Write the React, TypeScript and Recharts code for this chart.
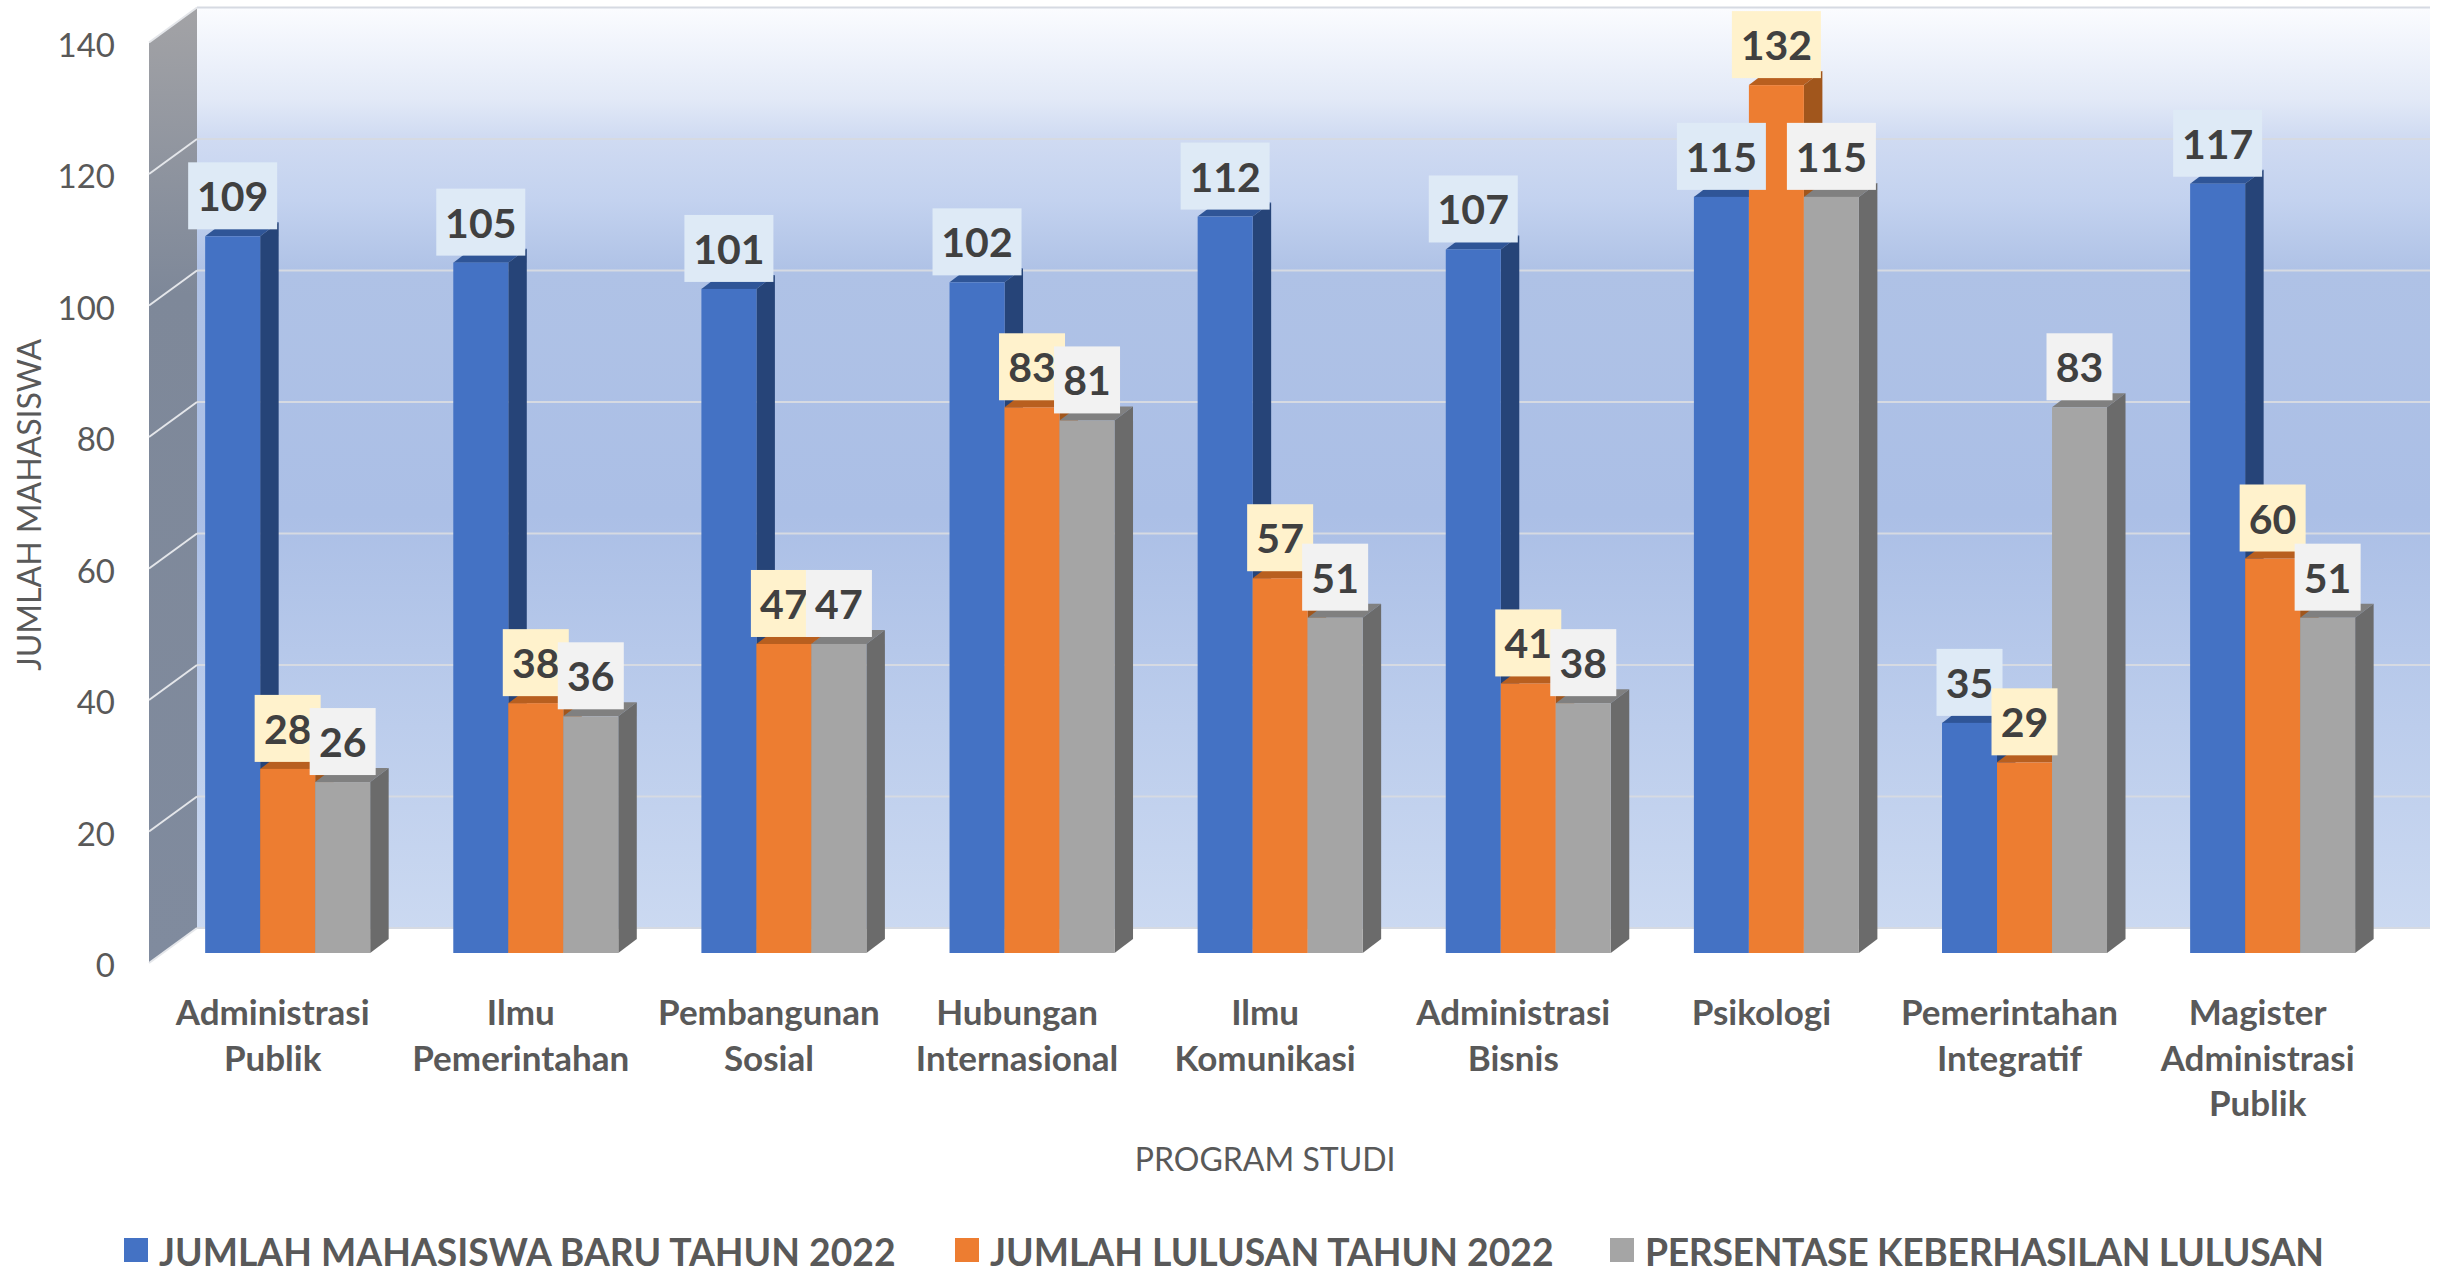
import React from 'react';
import { BarChart, Bar, XAxis, YAxis, Legend, LabelList, Customized } from 'recharts';

const categories = [
  'Administrasi|Publik',
  'Ilmu|Pemerintahan',
  'Pembangunan|Sosial',
  'Hubungan|Internasional',
  'Ilmu|Komunikasi',
  'Administrasi|Bisnis',
  'Psikologi',
  'Pemerintahan|Integratif',
  'Magister|Administrasi|Publik',
];
const baru = [109, 105, 101, 102, 112, 107, 115, 35, 117];
const lulusan = [28, 38, 47, 83, 57, 41, 132, 29, 60];
const persentase = [26, 36, 47, 81, 51, 38, 115, 83, 51];
const yTicks = [0, 20, 40, 60, 80, 100, 120, 140];

const data = categories.map((c, i) => ({ c, baru: baru[i], lulusan: lulusan[i], persentase: persentase[i] }));

const FONT = 'Lato, sans-serif';
const W = 2440;
const H = 1268;
const PLOT_TOP = 32.5;
const PLOT_BOTTOM = 953;
const PLOT_LEFT = 163.6;
const PLOT_RIGHT = 2396.7;
const DX = 18.5;
const DY = 14;
// wall geometry
const BACK_X = 197;
const BACK_R = 2430;
const FRONT_X = 149;
const unit = (PLOT_BOTTOM - PLOT_TOP) / 140;
const backY = (v: number) => 928 - v * unit;
const frontY = (v: number) => 963 - v * unit;

function Walls() {
  return (
    <g>
      <defs>
        <linearGradient id="back" x1="0" y1="0" x2="0" y2="1">
          <stop offset="0" stopColor="#FBFCFF" />
          <stop offset="0.1" stopColor="#E2E9F7" />
          <stop offset="0.14" stopColor="#D0DBF2" />
          <stop offset="0.21" stopColor="#C3D2EF" />
          <stop offset="0.285" stopColor="#AFC2E6" />
          <stop offset="0.55" stopColor="#ABBFE6" />
          <stop offset="0.78" stopColor="#BCCDEC" />
          <stop offset="1" stopColor="#CBD9F1" />
        </linearGradient>
        <linearGradient id="side" x1="0" y1="0" x2="0" y2="1">
          <stop offset="0" stopColor="#A3A3A6" />
          <stop offset="0.3" stopColor="#7E8899" />
          <stop offset="1" stopColor="#808B9E" />
        </linearGradient>
      </defs>
      <rect x={BACK_X} y={backY(140)} width={BACK_R - BACK_X} height={928 - backY(140)} fill="url(#back)" />
      <polygon points={`${FRONT_X},${frontY(140)} ${BACK_X},${backY(140)} ${BACK_X},928 ${FRONT_X},963`} fill="url(#side)" />
      {yTicks.map((t) => (
        <g key={t}>
          <line x1={BACK_X} x2={BACK_R} y1={backY(t)} y2={backY(t)} stroke="#D6DAE2" strokeWidth={2} />
          <line x1={FRONT_X} x2={BACK_X} y1={frontY(t)} y2={backY(t)} stroke="#E4E6EA" strokeWidth={2} />
        </g>
      ))}
    </g>
  );
}

const shades: Record<string, { top: string; side: string }> = {
  '#4472C4': { top: '#2F5597', side: '#264478' },
  '#ED7D31': { top: '#B85F1F', side: '#A1561C' },
  '#A5A5A5': { top: '#808080', side: '#6B6B6B' },
};

function Bar3D(props: any) {
  const { x, y, width, height, fill } = props;
  const s = shades[fill];
  const r = x + width;
  const b = y + height;
  return (
    <g>
      <polygon points={`${x},${y} ${x + DX},${y - DY} ${r + DX},${y - DY} ${r},${y}`} fill={s.top} />
      <polygon points={`${r},${y} ${r + DX},${y - DY} ${r + DX},${b - DY} ${r},${b}`} fill={s.side} />
      <rect x={x} y={y} width={width} height={height} fill={fill} />
    </g>
  );
}

function valueLabel(bg: string) {
  return function ValueLabel(props: any) {
    const { x, y, width, value } = props;
    const w = String(value).length > 2 ? 89 : 66;
    const h = 67;
    const cx = x + width / 2;
    return (
      <g>
        <rect x={cx - w / 2} y={y - 7 - h} width={w} height={h} fill={bg} />
        <text x={cx} y={y - 7 - h / 2 + 15.5} textAnchor="middle" fontFamily={FONT} fontWeight={700} fontSize={41} fill="#404040">
          {value}
        </text>
      </g>
    );
  };
}

function CategoryTick(props: any) {
  const { x, y, payload } = props;
  const lines = String(payload.value).split('|');
  return (
    <g>
      {lines.map((l, i) => (
        <text key={i} x={x - 15} y={y + 64 + i * 45.7} textAnchor="middle" fontFamily={FONT} fontWeight={700} fontSize={35} fill="#595959">
          {l}
        </text>
      ))}
    </g>
  );
}

function ValueTick(props: any) {
  const { y, payload } = props;
  return (
    <text x={115} y={y + 24} textAnchor="end" fontFamily={FONT} fontSize={33} fill="#595959">
      {payload.value}
    </text>
  );
}

const legendLeft = [124, 955, 1610];
const legendSpacing = [0, 0, -0.34];

function LegendContent(props: any) {
  const { payload } = props;
  return (
    <div style={{ position: 'relative', width: W, height: 40 }}>
      {(payload || []).map((p: any, i: number) => (
        <div key={i} style={{ position: 'absolute', left: legendLeft[i], top: 10, display: 'flex', alignItems: 'center', height: 24 }}>
          <div style={{ width: 24, height: 24, background: p.color, marginRight: 11 }} />
          <span style={{ fontFamily: FONT, fontWeight: 700, fontSize: 37.3, letterSpacing: legendSpacing[i], color: '#595959', whiteSpace: 'nowrap', lineHeight: '24px', position: 'relative', top: 1.5 }}>{p.value}</span>
        </div>
      ))}
    </div>
  );
}

export default function App() {
  return (
    <div style={{ position: 'absolute', left: 0, top: 0, width: W, height: H, overflow: 'hidden', background: '#fff' }}>
      <BarChart
        width={W}
        height={H}
        data={data}
        barGap={0}
        barCategoryGap="16.75%"
        margin={{ top: PLOT_TOP, right: W - PLOT_RIGHT, left: 0, bottom: 0 }}
      >
        <Customized component={Walls} />
        <XAxis
          dataKey="c"
          height={275}
          axisLine={false}
          tickLine={false}
          interval={0}
          tick={CategoryTick}
          label={{ value: 'PROGRAM STUDI', position: 'insideTop', offset: 195, dx: -15, fontFamily: FONT, fontSize: 32, fill: '#595959' }}
        />
        <YAxis
          width={PLOT_LEFT}
          domain={[0, 140]}
          ticks={yTicks}
          axisLine={false}
          tickLine={false}
          tick={ValueTick}
          label={{ value: 'JUMLAH MAHASISWA', angle: -90, position: 'insideLeft', dx: 25, dy: 12, fontFamily: FONT, fontSize: 32, fill: '#595959', style: { textAnchor: 'middle' } }}
        />
        <Legend verticalAlign="bottom" height={40} wrapperStyle={{ left: 0, width: W }} content={LegendContent} itemSorter={null} />
        <Bar dataKey="baru" name="JUMLAH MAHASISWA BARU TAHUN 2022" fill="#4472C4" shape={Bar3D} isAnimationActive={false}>
          <LabelList dataKey="baru" content={valueLabel('#DEEAF6')} />
        </Bar>
        <Bar dataKey="lulusan" name="JUMLAH LULUSAN TAHUN 2022" fill="#ED7D31" shape={Bar3D} isAnimationActive={false}>
          <LabelList dataKey="lulusan" content={valueLabel('#FFF2CC')} />
        </Bar>
        <Bar dataKey="persentase" name="PERSENTASE KEBERHASILAN LULUSAN" fill="#A5A5A5" shape={Bar3D} isAnimationActive={false}>
          <LabelList dataKey="persentase" content={valueLabel('#F2F2F2')} />
        </Bar>
      </BarChart>
    </div>
  );
}
